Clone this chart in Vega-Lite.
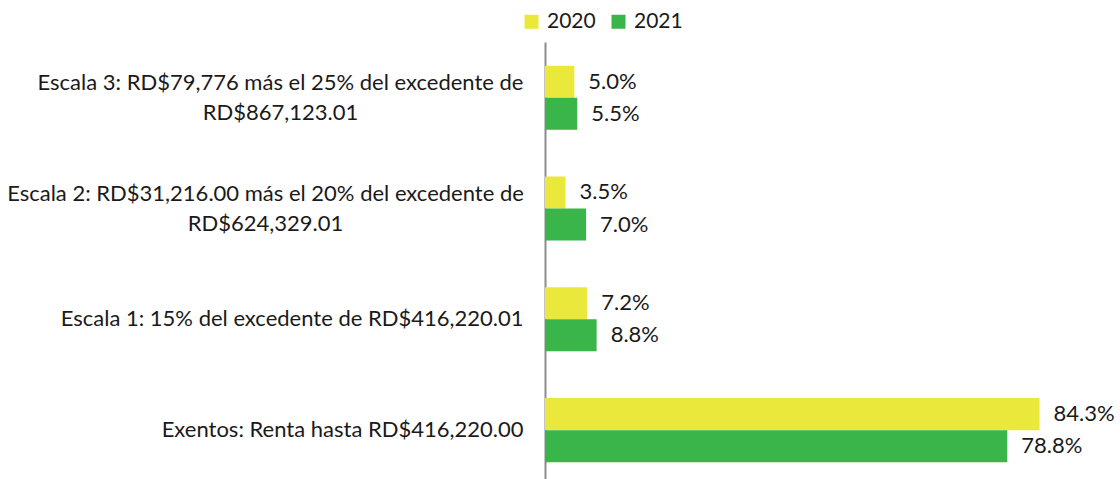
{
  "$schema": "https://vega.github.io/schema/vega-lite/v6.json",
  "width": 528,
  "height": 437,
  "autosize": {"type": "none"},
  "padding": {"left": 545, "top": 42, "right": 47, "bottom": 0},
  "background": "white",
  "config": {"view": {"stroke": null}, "font": "Lato"},
  "data": {
    "values": [
      {"cat": "Escala 3: RD$79,776 más el 25% del excedente de\nRD$867,123.01", "year": "2020", "value": 0.050},
      {"cat": "Escala 3: RD$79,776 más el 25% del excedente de\nRD$867,123.01", "year": "2021", "value": 0.055},
      {"cat": "Escala 2: RD$31,216.00 más el 20% del excedente de\nRD$624,329.01", "year": "2020", "value": 0.035},
      {"cat": "Escala 2: RD$31,216.00 más el 20% del excedente de\nRD$624,329.01", "year": "2021", "value": 0.070},
      {"cat": "Escala 1: 15% del excedente de RD$416,220.01", "year": "2020", "value": 0.072},
      {"cat": "Escala 1: 15% del excedente de RD$416,220.01", "year": "2021", "value": 0.088},
      {"cat": "Exentos: Renta hasta RD$416,220.00", "year": "2020", "value": 0.843},
      {"cat": "Exentos: Renta hasta RD$416,220.00", "year": "2021", "value": 0.788}
    ]
  },
  "encoding": {
    "y": {
      "field": "cat",
      "type": "nominal",
      "sort": [
        "Escala 3: RD$79,776 más el 25% del excedente de\nRD$867,123.01",
        "Escala 2: RD$31,216.00 más el 20% del excedente de\nRD$624,329.01",
        "Escala 1: 15% del excedente de RD$416,220.01",
        "Exentos: Renta hasta RD$416,220.00"
      ],
      "scale": {"paddingInner": 0.4224, "paddingOuter": 0.183, "align": 0.584},
      "title": null,
      "axis": {
        "domain": true,
        "domainColor": "#8c8c8c",
        "domainWidth": 2,
        "ticks": false,
        "labelFontSize": 22,
        "labelLimit": 0,
        "labelColor": "#1a1a1a",
        "labelLineHeight": 30,
        "labelBaseline": "middle",
        "labelExpr": "split(datum.label, '\\n')",
        "labelAlign": {
          "condition": {"test": "indexof(datum.value, 'más') >= 0", "value": "center"},
          "value": "right"
        },
        "labelPadding": {
          "condition": [
            {"test": "indexof(datum.value, 'Escala 3') >= 0", "value": 265},
            {"test": "indexof(datum.value, 'Escala 2') >= 0", "value": 280}
          ],
          "value": 22
        },
        "labelOffset": {
          "condition": {"test": "indexof(datum.value, 'más') >= 0", "value": -15},
          "value": 0
        }
      }
    },
    "yOffset": {
      "field": "year",
      "type": "nominal",
      "sort": ["2020", "2021"],
      "scale": {"paddingInner": 0, "paddingOuter": 0}
    },
    "x": {
      "field": "value",
      "type": "quantitative",
      "scale": {"domain": [0, 0.9], "nice": false},
      "axis": null
    }
  },
  "layer": [
    {
      "mark": {"type": "bar"},
      "encoding": {
        "color": {
          "field": "year",
          "type": "nominal",
          "sort": ["2020", "2021"],
          "scale": {"domain": ["2020", "2021"], "range": ["#EAE83B", "#3AB54A"]},
          "legend": {
            "title": null,
            "orient": "none",
            "legendX": -24,
            "legendY": -31,
            "direction": "horizontal",
            "symbolType": "square",
            "symbolSize": 196,
            "symbolStrokeWidth": 0,
            "symbolOpacity": 1,
            "labelFontSize": 21,
            "labelColor": "#1a1a1a",
            "labelOffset": 5,
            "columnPadding": 12,
            "padding": 0
          }
        }
      }
    },
    {
      "mark": {"type": "text", "align": "left", "baseline": "middle", "dx": 14, "fontSize": 22, "color": "#1a1a1a"},
      "encoding": {
        "text": {"field": "value", "type": "quantitative", "format": ".1%"}
      }
    }
  ]
}
